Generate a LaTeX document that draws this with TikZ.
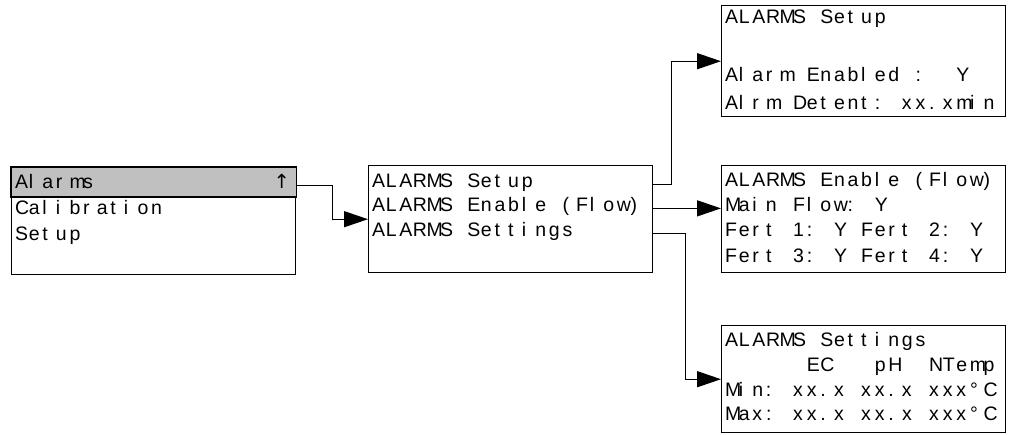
\documentclass[tikz,border=0pt]{standalone}
\usepackage{fontspec}
\setmainfont{Liberation Sans}
\newfontfamily\arrowfont{DejaVu Sans}
\usetikzlibrary{arrows.meta,calc}
\definecolor{hlgray}{RGB}{192,192,192}
\newlength{\lcdcell}
\setlength{\lcdcell}{13.6pt}
\ExplSyntaxOn
\NewDocumentCommand{\lcd}{m}{
  \str_map_inline:nn {#1}
    { \str_case:nnF {##1}
        { {_} { \hbox_to_wd:nn {\lcdcell} {\hfil} }
          {↑} { \hbox_to_wd:nn {\lcdcell} {{\arrowfont ↑}\hfil} } }
        { \hbox_to_wd:nn {\lcdcell} {##1\hfil} } }
}
\ExplSyntaxOff
\begin{document}
\begin{tikzpicture}[x=1pt,y=-1pt]
    \tikzset{
      lcdbox/.style={draw,rectangle,line width=1.4pt,inner sep=0pt,
        minimum width=284pt,minimum height=107pt,anchor=north west},
      lcdtext/.style={anchor=base west,inner sep=0pt,
        font=\fontsize{19.5}{19.5}\selectfont},
      arr/.style={-{Triangle[length=24pt,width=16pt]},line width=1.4pt}
    }
    \newcommand{\lcdrow}[4]{%
      \node[lcdtext] (#1) at ($(#2.north west)+(4,#3)$) {\lcd{#4}};
    }
    \useasboundingbox (0,0) rectangle (1011,434);

    \node[lcdbox] (menu) at (11,167) {};
    \draw[line width=1.4pt,fill=hlgray] (menu.north west) rectangle ($(menu.north east)+(0,30)$);
    \lcdrow{menuA}{menu}{21}{Alarms_____________↑}
    \lcdrow{menuB}{menu}{47}{Calibration}
    \lcdrow{menuC}{menu}{73}{Setup}

    \node[lcdbox] (mid) at (368,165) {};
    \lcdrow{midA}{mid}{22}{ALARMS Setup}
    \lcdrow{midB}{mid}{46}{ALARMS Enable (Flow)}
    \lcdrow{midC}{mid}{71}{ALARMS Settings}

    \node[lcdbox,minimum height=111pt] (alset) at (721,5) {};
    \lcdrow{alsetA}{alset}{18}{ALARMS Setup}
    \lcdrow{alsetC}{alset}{76}{Alarm Enabled : _Y}
    \lcdrow{alsetD}{alset}{104}{Alrm Detent: xx.xmin}

    \node[lcdbox] (alen) at (721,165) {};
    \lcdrow{alenA}{alen}{21}{ALARMS Enable (Flow)}
    \lcdrow{alenB}{alen}{46}{Main Flow: Y}
    \lcdrow{alenC}{alen}{71}{Fert 1: Y Fert 2: Y}
    \lcdrow{alenD}{alen}{97}{Fert 3: Y Fert 4: Y}

    \node[lcdbox] (alst) at (721,325) {};
    \lcdrow{alstA}{alst}{21}{ALARMS Settings}
    \lcdrow{alstB}{alst}{46}{______EC___pH__NTemp}
    \lcdrow{alstC}{alst}{71}{Min: xx.x xx.x xxx°C}
    \lcdrow{alstD}{alst}{95}{Max: xx.x xx.x xxx°C}

    \draw[arr] (menu.east |- menuA.mid) -| ($(menu.east)!0.5!(mid.west)$) |- (mid.west);
    \draw[arr] (mid.east |- midA.mid) -- ++(18,0) |- (alset.west);
    \draw[arr] (mid.east |- midB.mid) -- (alen.west |- midB.mid);
    \draw[arr] (mid.east |- midC.mid) -- ++(32,0) |- (alst.west);
  \end{tikzpicture}
\end{document}
